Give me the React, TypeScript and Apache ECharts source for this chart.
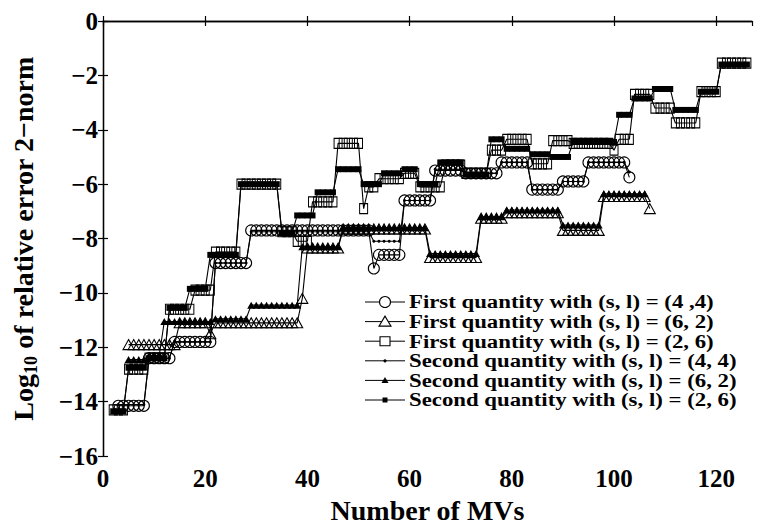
import React, { useEffect, useRef } from 'react';
import * as echarts from 'echarts';

const FONT = '"Liberation Serif", "Times New Roman", serif';

// axis ranges and tick steps
const xMin = 0;
const xMax = 127;
const xTickStep = 20;
const yMin = -16;
const yMax = 0;
const yTickStep = 2;

const xName = 'Number of MVs';
const yName = '{m|Log}{s|10}{m| of relative error 2\u2212norm}';

const legendLabels = [
  'First quantity with (s, l) = (4 ,4)',
  'First quantity with (s, l) = (6, 2)',
  'First quantity with (s, l) = (2, 6)',
  'Second quantity with (s, l) = (4, 4)',
  'Second quantity with (s, l) = (6, 2)',
  'Second quantity with (s, l) = (2, 6)',
];

// First quantity, (s,l) = (4,4) — starts at x = 3
const firstQ44Start = 3;
const firstQ44 = [
  -14.15, -14.15, -14.15, -14.15, -14.15, -14.15,
  -12.4, -12.4, -12.4, -12.4, -12.4,
  -11.8, -11.8, -11.8, -11.8, -11.8, -11.8, -11.8, -11.8,
  -8.9, -8.9, -8.9, -8.9, -8.9, -8.9, -8.9,
  -7.7, -7.7, -7.7, -7.7, -7.7, -7.7, -7.7, -7.7, -7.7, -7.7, -7.7, -7.7,
  -7.7, -7.7, -7.7, -7.7, -7.7, -7.7, -7.7, -7.7, -7.7, -7.7, -7.7, -7.7,
  -9.1,
  -8.6, -8.6, -8.6, -8.6, -8.6,
  -6.6, -6.6, -6.6, -6.6, -6.6, -6.6,
  -5.5, -5.5, -5.5, -5.5, -5.5, -5.5,
  -5.6, -5.6, -5.6, -5.6, -5.6, -5.6, -5.6,
  -5.2, -5.2, -5.2, -5.2, -5.2, -5.2,
  -6.2, -6.2, -6.2, -6.2, -6.2, -6.2,
  -5.9, -5.9, -5.9, -5.9, -5.9,
  -5.2, -5.2, -5.2, -5.2, -5.2, -5.2, -5.2, -5.2,
  -5.75,
];

// First quantity, (s,l) = (6,2) — starts at x = 5
const firstQ62Start = 5;
const firstQ62 = [
  -11.9, -11.9, -11.9, -11.9, -11.9, -11.9, -11.9, -11.9, -11.9, -11.9,
  -11.1, -11.1, -11.1, -11.1, -11.1, -11.1,
  -11.5,
  -11.1, -11.1, -11.1, -11.1, -11.1, -11.1, -11.1, -11.1, -11.1,
  -11.1, -11.1, -11.1, -11.1, -11.1, -11.1, -11.1, -11.1,
  -10.2,
  -8.35, -8.35, -8.35, -8.35, -8.35, -8.35, -8.35,
  -7.65, -7.65, -7.65, -7.65, -7.65, -7.65, -7.65, -7.65, -7.65,
  -7.65, -7.65, -7.65, -7.65, -7.65, -7.65, -7.65, -7.65,
  -8.7, -8.7, -8.7, -8.7, -8.7, -8.7, -8.7, -8.7, -8.7, -8.7,
  -7.25, -7.25, -7.25, -7.25, -7.25,
  -7.05, -7.05, -7.05, -7.05, -7.05, -7.05, -7.05, -7.05, -7.05, -7.05, -7.05,
  -7.7, -7.7, -7.7, -7.7, -7.7, -7.7, -7.7, -7.7,
  -6.45, -6.45, -6.45, -6.45, -6.45, -6.45, -6.45, -6.45, -6.45,
  -6.9,
];

// First quantity, (s,l) = (2,6) — starts at x = 2
const firstQ26Start = 2;
const firstQ26 = [
  -14.3, -14.3, -14.3,
  -12.8, -12.8, -12.8, -12.8,
  -12.4, -12.4, -12.4, -12.4,
  -10.6, -10.6, -10.6, -10.6, -10.6,
  -9.9, -9.9, -9.9, -9.9,
  -8.5, -8.5, -8.5, -8.5, -8.5,
  -6.0, -6.0, -6.0, -6.0, -6.0, -6.0, -6.0, -6.0,
  -7.75, -7.75, -7.75,
  -8.1, -8.1, -8.1,
  -6.65, -6.65, -6.65, -6.65, -6.65,
  -4.5, -4.5, -4.5, -4.5, -4.5,
  -6.9,
  -6.1, -6.1,
  -5.8, -5.8, -5.8, -5.8, -5.8,
  -5.6, -5.6, -5.6,
  -6.1, -6.1, -6.1, -6.1, -6.1,
  -5.3, -5.3, -5.3, -5.3,
  -5.6, -5.6, -5.6, -5.6, -5.6,
  -4.75, -4.75, -4.75,
  -4.35, -4.35, -4.35, -4.35, -4.35,
  -5.25, -5.25, -5.25, -5.25,
  -4.4, -4.4, -4.4, -4.4,
  -4.5, -4.5, -4.5, -4.5, -4.5, -4.5, -4.5, -4.5,
  -4.75,
  -4.35, -4.35, -4.35,
  -2.7, -2.7, -2.7, -2.7,
  -3.2, -3.2, -3.2, -3.2,
  -3.75, -3.75, -3.75, -3.75, -3.75,
  -2.6, -2.6, -2.6, -2.6,
  -1.55, -1.55, -1.55, -1.55, -1.55, -1.55,
];

// Second quantity, (s,l) = (4,4) — starts at x = 3
const secondQ44Start = 3;
const secondQ44 = [
  -14.1, -14.1, -14.1, -14.1, -14.1, -14.1,
  -12.4, -12.4, -12.4, -12.4, -12.4,
  -11.8, -11.8, -11.8, -11.8, -11.8, -11.8, -11.8, -11.8,
  -8.9, -8.9, -8.9, -8.9, -8.9, -8.9, -8.9,
  -7.75, -7.75, -7.75, -7.75, -7.75, -7.75, -7.75, -7.75, -7.75, -7.75, -7.75, -7.75,
  -7.75, -7.75, -7.75, -7.75, -7.75, -7.75, -7.75, -7.75, -7.75, -7.75, -7.75, -7.75,
  -8.1, -8.1, -8.1, -8.1, -8.1, -8.1,
  -6.6, -6.6, -6.6, -6.6, -6.6, -6.6,
  -5.45, -5.45, -5.45, -5.45, -5.45, -5.45,
  -5.6, -5.6, -5.6, -5.6, -5.6, -5.6, -5.6,
  -5.2, -5.2, -5.2, -5.2, -5.2, -5.2,
  -6.2, -6.2, -6.2, -6.2, -6.2, -6.2,
  -5.9, -5.9, -5.9, -5.9, -5.9,
  -5.2, -5.2, -5.2, -5.2, -5.2, -5.2, -5.2, -5.2,
  -5.55,
];

// Second quantity, (s,l) = (6,2) — starts at x = 5
const secondQ62Start = 5;
const secondQ62 = [
  -12.45, -12.45, -12.45, -12.45,
  -12.3, -12.3, -12.3,
  -11.05, -11.05, -11.05, -11.05, -11.05, -11.05, -11.05, -11.05, -11.05, -11.05,
  -10.95, -10.95, -10.95, -10.95, -10.95, -10.95, -10.95,
  -10.45, -10.45, -10.45, -10.45, -10.45, -10.45, -10.45, -10.45, -10.45, -10.45,
  -8.3, -8.3, -8.3, -8.3, -8.3, -8.3, -8.3, -8.3,
  -7.6, -7.6, -7.6, -7.6, -7.6, -7.6, -7.6, -7.6, -7.6,
  -7.6, -7.6, -7.6, -7.6, -7.6, -7.6, -7.6, -7.6,
  -8.55, -8.55, -8.55, -8.55, -8.55, -8.55, -8.55, -8.55, -8.55, -8.55,
  -7.2, -7.2, -7.2, -7.2, -7.2,
  -6.95, -6.95, -6.95, -6.95, -6.95, -6.95, -6.95, -6.95, -6.95, -6.95, -6.95,
  -7.5, -7.5, -7.5, -7.5, -7.5, -7.5, -7.5, -7.5,
  -6.35, -6.35, -6.35, -6.35, -6.35, -6.35, -6.35, -6.35, -6.35,
];

// Second quantity, (s,l) = (2,6) — starts at x = 2
const secondQ26Start = 2;
const secondQ26 = [
  -14.35, -14.35, -14.35,
  -12.75, -12.75, -12.75, -12.75,
  -12.4, -12.4, -12.4, -12.4,
  -10.55, -10.55, -10.55, -10.55,
  -9.85, -9.85, -9.85, -9.85,
  -8.6, -8.6, -8.6, -8.6, -8.6, -8.6,
  -6.0, -6.0, -6.0, -6.0, -6.0, -6.0, -6.0, -6.0,
  -7.8, -7.8, -7.8,
  -7.15, -7.15, -7.15, -7.15,
  -6.3, -6.3, -6.3, -6.3,
  -5.45, -5.45, -5.45, -5.45, -5.45,
  -6.0, -6.0, -6.0, -6.0,
  -5.6, -5.6, -5.6, -5.6,
  -5.45, -5.45, -5.45,
  -6.0, -6.0, -6.0, -6.0,
  -5.2, -5.2, -5.2, -5.2, -5.2,
  -5.65, -5.65, -5.65, -5.65, -5.65,
  -4.35, -4.35, -4.35,
  -4.7, -4.7, -4.7, -4.7, -4.7,
  -4.9, -4.9, -4.9, -4.9,
  -5.0, -5.0, -5.0, -5.0,
  -4.45, -4.45, -4.45, -4.45, -4.45, -4.45, -4.45, -4.45, -4.45,
  -3.45, -3.45, -3.45,
  -2.85, -2.85, -2.85, -2.85,
  -2.5, -2.5, -2.5, -2.5,
  -3.27, -3.27, -3.27, -3.27, -3.27,
  -2.6, -2.6, -2.6, -2.6,
  -1.6, -1.6, -1.6, -1.6, -1.6, -1.6,
];

const toPoints = (start: number, vals: number[]) => vals.map((v, i) => [start + i, v]);

const openStyle = { color: 'rgba(255,255,255,0)', borderColor: '#000', borderWidth: 1.1 };
const filledStyle = { color: '#000', borderColor: '#000', borderWidth: 0 };

function lineSeries(name: string, data: number[][], symbol: string, size: any, filled: boolean, z: number) {
  return {
    name,
    type: 'line',
    data,
    symbol,
    symbolSize: size,
    showAllSymbol: true,
    xAxisIndex: 0,
    yAxisIndex: 0,
    lineStyle: { color: '#000', width: 1.1 },
    itemStyle: filled ? filledStyle : openStyle,
    emphasis: { disabled: true },
    silent: true,
    z,
  };
}

function legendGraphic() {
  const rowsY = [302, 321.6, 341.2, 360.8, 380.4, 400];
  const x1 = 365;
  const x2 = 405;
  const cx = 385;
  const els: any[] = [];
  rowsY.forEach((y, i) => {
    els.push({ type: 'line', silent: true, shape: { x1, y1: y, x2, y2: y }, style: { stroke: '#000', lineWidth: 1 } });
    const open = { fill: '#fff', stroke: '#000', lineWidth: 1.1 };
    const fill = { fill: '#000', stroke: '#000', lineWidth: 0 };
    if (i === 0) els.push({ type: 'circle', silent: true, shape: { cx, cy: y, r: 5.5 }, style: open });
    if (i === 1) els.push({ type: 'polygon', silent: true, shape: { points: [[cx, y - 5.5], [cx - 6, y + 4.5], [cx + 6, y + 4.5]] }, style: open });
    if (i === 2) els.push({ type: 'rect', silent: true, shape: { x: cx - 5, y: y - 4.5, width: 10, height: 9 }, style: open });
    if (i === 3) els.push({ type: 'circle', silent: true, shape: { cx, cy: y, r: 1.6 }, style: fill });
    if (i === 4) els.push({ type: 'polygon', silent: true, shape: { points: [[cx, y - 3.5], [cx - 3.5, y + 2.5], [cx + 3.5, y + 2.5]] }, style: fill });
    if (i === 5) els.push({ type: 'rect', silent: true, shape: { x: cx - 2.5, y: y - 2.5, width: 5, height: 5 }, style: fill });
    els.push({
      type: 'text',
      silent: true,
      x: 409,
      y,
      scaleX: 1.2,
      style: { text: legendLabels[i], font: `bold 19px ${FONT}`, fill: '#000', verticalAlign: 'middle', align: 'left' },
    });
  });
  return els;
}

const minusFmt = (v: number) => (v === 0 ? '0' : v < 0 ? '\u2212' + Math.abs(v) : String(v));

export default function App() {
  const ref = useRef<HTMLDivElement>(null);
  useEffect(() => {
    if (!ref.current) return;
    const chart = echarts.init(ref.current, undefined, { renderer: 'svg' });
    const axisLine = { show: true, lineStyle: { color: '#000', width: 1.3 } };
    const tickInside = { show: true, inside: true, length: 5, lineStyle: { color: '#000', width: 1.2 } };
    chart.setOption({
      animation: false,
      backgroundColor: '#fff',
      grid: { left: 103, right: 8, top: 21, bottom: 65, containLabel: false },
      xAxis: [
        {
          type: 'value',
          position: 'bottom',
          min: xMin,
          max: xMax,
          interval: xTickStep,
          axisLine,
          axisTick: tickInside,
          splitLine: { show: false },
          axisLabel: {
            margin: 10,
            showMaxLabel: false,
            formatter: (v: number) => (v % xTickStep === 0 ? String(v) : ''),
            color: '#000',
            fontFamily: FONT,
            fontWeight: 'bold',
            fontSize: 25,
          },
          name: xName,
          nameLocation: 'middle',
          nameGap: 33,
          nameTextStyle: { color: '#000', fontFamily: FONT, fontWeight: 'bold', fontSize: 28, verticalAlign: 'top' },
        },
        {
          type: 'value',
          position: 'top',
          min: xMin,
          max: xMax,
          interval: xTickStep,
          axisLine,
          axisTick: tickInside,
          splitLine: { show: false },
          axisLabel: { show: false },
        },
      ],
      yAxis: [
        {
          type: 'value',
          position: 'left',
          min: yMin,
          max: yMax,
          interval: yTickStep,
          axisLine,
          axisTick: tickInside,
          splitLine: { show: false },
          axisLabel: { margin: 5, formatter: minusFmt, color: '#000', fontFamily: FONT, fontWeight: 'bold', fontSize: 25 },
          name: yName,
          nameLocation: 'middle',
          nameGap: 63,
          nameTextStyle: {
            color: '#000',
            rich: {
              m: { fontFamily: FONT, fontWeight: 'bold', fontSize: 28, lineHeight: 34, verticalAlign: 'middle', color: '#000' },
              s: { fontFamily: FONT, fontWeight: 'bold', fontSize: 18, lineHeight: 34, verticalAlign: 'bottom', color: '#000' },
            },
          },
        },
        {
          type: 'value',
          position: 'right',
          min: yMin,
          max: yMax,
          interval: yTickStep,
          axisLine,
          axisTick: tickInside,
          splitLine: { show: false },
          axisLabel: { show: false },
        },
      ],
      series: [
        lineSeries(legendLabels[0], toPoints(firstQ44Start, firstQ44), 'circle', 11, false, 2),
        lineSeries(legendLabels[1], toPoints(firstQ62Start, firstQ62), 'triangle', [11, 10], false, 2),
        lineSeries(legendLabels[2], toPoints(firstQ26Start, firstQ26), 'rect', [8, 10], false, 2),
        lineSeries(legendLabels[3], toPoints(secondQ44Start, secondQ44), 'circle', 3, true, 3),
        lineSeries(legendLabels[4], toPoints(secondQ62Start, secondQ62), 'triangle', [8, 7], true, 3),
        lineSeries(legendLabels[5], toPoints(secondQ26Start, secondQ26), 'rect', [6, 6], true, 3),
      ],
      graphic: legendGraphic(),
    });
    return () => chart.dispose();
  }, []);
  return <div ref={ref} style={{ position: 'fixed', left: 0, top: 0, width: 760, height: 529 }} />;
}
